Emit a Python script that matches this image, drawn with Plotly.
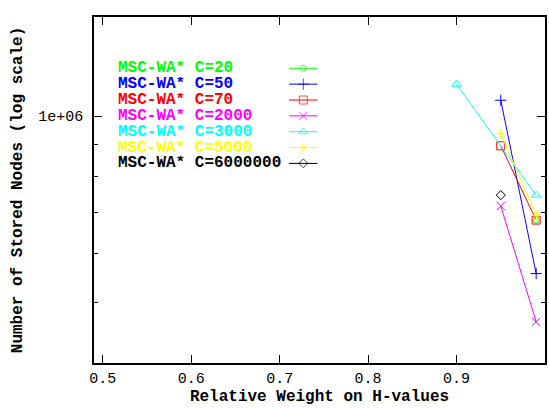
import plotly.graph_objects as go

# ---- data ----
labels = ["MSC-WA* C=20", "MSC-WA* C=50", "MSC-WA* C=70", "MSC-WA* C=2000",
          "MSC-WA* C=3000", "MSC-WA* C=5000", "MSC-WA* C=6000000"]
colors = ["#00ff00", "#0000ff", "#ff0000", "#ff00ff", "#00ffff", "#ffff00", "#000000"]
symbols = ["circle-open", "cross-thin-open", "square-open", "x-thin-open",
           "triangle-up-open", "asterisk-open", "diamond-open"]
msizes = [6, 8, 8, 8, 8, 8, 7]

x_c20 = [0.99]
y_c20 = [680000]
x_c50 = [0.95, 0.99]
y_c50 = [1061000, 557500]
x_c70 = [0.95, 0.99]
y_c70 = [896000, 680000]
x_c2000 = [0.95, 0.99]
y_c2000 = [716500, 466000]
x_c3000 = [0.90, 0.99]
y_c3000 = [1126000, 746000]
x_c5000 = [0.95, 0.99]
y_c5000 = [938000, 692000]
x_c6000000 = [0.95]
y_c6000000 = [746000]

xs = [x_c20, x_c50, x_c70, x_c2000, x_c3000, x_c5000, x_c6000000]
ys = [y_c20, y_c50, y_c70, y_c2000, y_c3000, y_c5000, y_c6000000]

x_tickvals = [0.5, 0.6, 0.7, 0.8, 0.9, 1.0]
x_ticktext = ["0.5", "0.6", "0.7", "0.8", "0.9", "1"]
y_tickvals = [1e6]
y_ticktext = ["1e+06"]
y_minor = [500000, 600000, 700000, 800000, 900000]

FONT = "Liberation Mono"

fig = go.Figure()
for xv, yv, c, s, ms, name in zip(xs, ys, colors, symbols, msizes, labels):
    fig.add_trace(go.Scatter(
        x=xv, y=yv, mode="lines+markers", name=name, showlegend=False,
        line=dict(color=c, width=1),
        marker=dict(symbol=s, size=ms, color=c, line=dict(color=c, width=1)),
        cliponaxis=False,
    ))

# ---- manual gnuplot-style key (text left, sample right) ----
W, H = 549, 408
ml, mr, mt, mb = 94, 2, 17, 45
pw, ph = W - ml - mr, H - mt - mb
row0, rowstep = 68.3, 15.85
for i, (c, s, ms, name) in enumerate(zip(colors, symbols, msizes, labels)):
    ypix = row0 + i * rowstep
    yp = (H - mb - ypix) / ph
    fig.add_annotation(x=(116 - ml) / pw, y=yp, xref="paper", yref="paper",
                       text="<b>%s</b>" % name, showarrow=False,
                       xanchor="left", yanchor="middle", height=14,
                       font=dict(family=FONT, size=16, color=c))
    x0, x1 = (290 - ml) / pw, (318.5 - ml) / pw
    fig.add_trace(go.Scatter(
        x=[x0, (x0 + x1) / 2, x1], y=[yp, yp, yp], xaxis="x2", yaxis="y2",
        mode="lines+markers", showlegend=False, hoverinfo="skip",
        line=dict(color=c, width=1),
        marker=dict(symbol=s, size=[0, ms, 0], color=c, line=dict(color=c, width=1)),
    ))

fig.update_layout(
    width=W, height=H,
    margin=dict(l=ml, r=mr, t=mt, b=mb),
    plot_bgcolor="white", paper_bgcolor="white",
    font=dict(family=FONT, size=15, color="black"),
    xaxis=dict(
        range=[0.4901, 1.0], tickvals=x_tickvals, ticktext=x_ticktext,
        ticks="inside", ticklen=8, tickwidth=1, tickcolor="black",
        showline=True, linecolor="black", linewidth=1.5, mirror="ticks",
        showgrid=False, zeroline=False,
        title=dict(text="<b>Relative Weight on H-values</b>", standoff=0,
                   font=dict(family=FONT, size=16)),
        tickfont=dict(family=FONT, size=15),
    ),
    yaxis=dict(
        type="log", range=[5.60206, 6.1600],
        tickvals=y_tickvals, ticktext=y_ticktext,
        ticks="inside", ticklen=8, tickwidth=1, tickcolor="black",
        ticklabelstandoff=6,
        minor=dict(tickvals=y_minor, ticks="inside", ticklen=4, tickwidth=1,
                   tickcolor="black", showgrid=False),
        showline=True, linecolor="black", linewidth=1.5, mirror="ticks",
        showgrid=False, zeroline=False,
        title=dict(text="<b>Number of Stored Nodes (log scale)</b>", standoff=12,
                   font=dict(family=FONT, size=16)),
        tickfont=dict(family=FONT, size=15),
    ),
    xaxis2=dict(overlaying="x", range=[0, 1], visible=False, fixedrange=True),
    yaxis2=dict(overlaying="y", range=[0, 1], visible=False, fixedrange=True),
    showlegend=False,
)

fig.write_html("out.html")
